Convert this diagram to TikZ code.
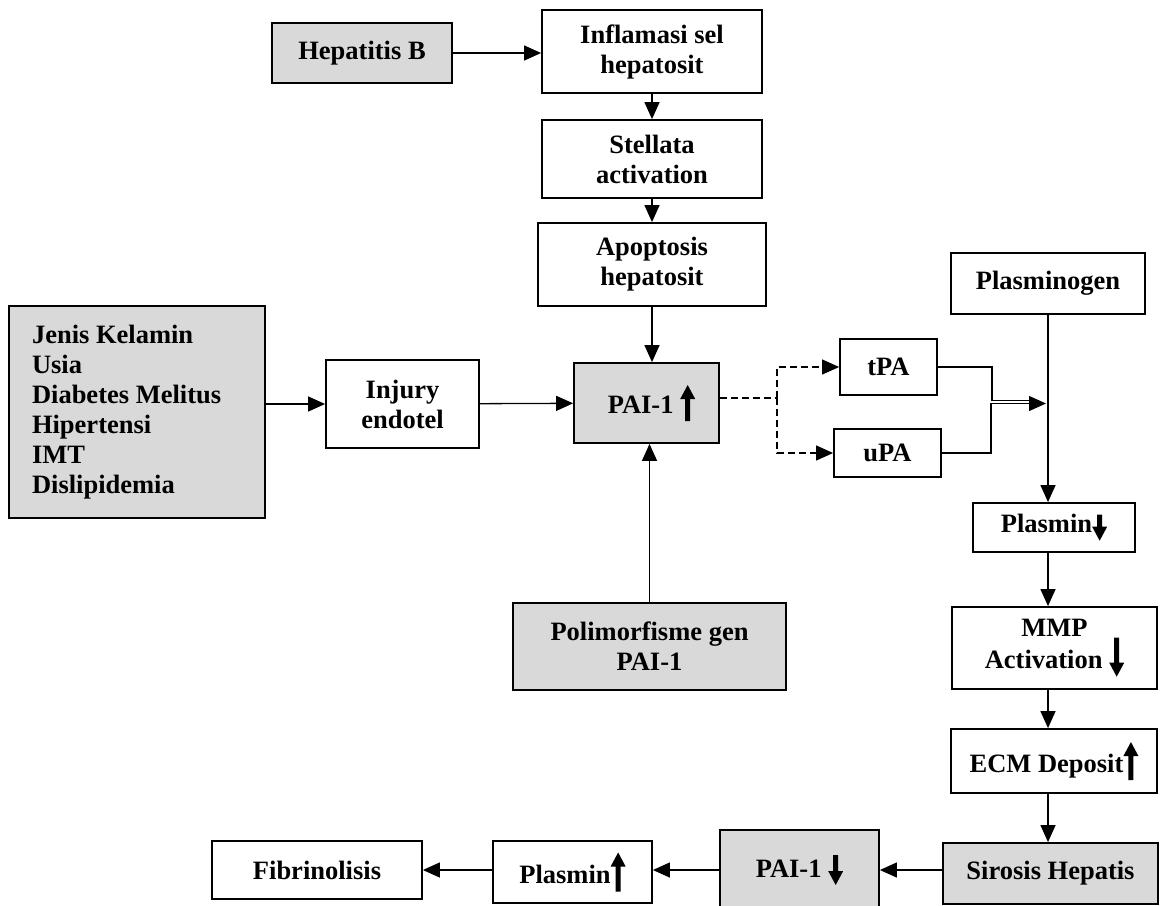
\documentclass[tikz,border=0pt]{standalone}
\usepackage{fontspec}
\setmainfont{Liberation Serif}
\usetikzlibrary{arrows.meta}

% thick arrows that sit in the text (height in pt)
\newcommand{\upar}[1]{\tikz[baseline=0pt]\fill (-2.5pt,-8pt) -- (-2.5pt,{#1pt-22pt}) -- (-7.5pt,{#1pt-22pt}) -- (0pt,{#1pt-8pt}) -- (7.5pt,{#1pt-22pt}) -- (2.5pt,{#1pt-22pt}) -- (2.5pt,-8pt) -- cycle;}
\newcommand{\dnar}[1]{\tikz[baseline=0pt]\fill (-2.5pt,{#1pt-8pt}) -- (-2.5pt,6pt) -- (-7.5pt,6pt) -- (0pt,-8pt) -- (7.5pt,6pt) -- (2.5pt,6pt) -- (2.5pt,{#1pt-8pt}) -- cycle;}

\begin{document}
\begin{tikzpicture}[x=1pt,y=-1pt,
  kotak/.style={draw,line width=1.8pt,align=center,inner sep=2pt,
    font=\fontsize{26.5}{30}\selectfont\bfseries},
  abu/.style={kotak,fill=gray!30},
  garis/.style={line width=1.3pt},
  panah/.style={garis,-{Triangle[length=17pt,width=15pt]}},
  putus/.style={line width=1.2pt,dash pattern=on 7pt off 4pt}]
\useasboundingbox (0,0) rectangle (1164,905);

\node[abu,minimum width=180pt,minimum height=60pt] (hepb) at (362,53) {Hepatitis B};
\node[kotak,minimum width=220pt,minimum height=83pt] (infl) at (652,51.5) {Inflamasi sel\\hepatosit};
\node[kotak,minimum width=220pt,minimum height=78pt] (stel) at (652,159) {Stellata\\activation};
\node[kotak,minimum width=228pt,minimum height=83pt] (apop) at (652,264.5) {Apoptosis\\hepatosit};
\node[abu,minimum width=145pt,minimum height=80pt] (pai) at (646.5,403) {\hspace*{10pt}PAI-1 \upar{36}};
\node[abu,minimum width=256pt,minimum height=212pt,text width=210pt,align=flush left] (faktor) at (137,412)
  {Jenis Kelamin\\Usia\\Diabetes Melitus\\Hipertensi\\IMT\\Dislipidemia};
\node[kotak,minimum width=153pt,minimum height=88pt] (inj) at (402.5,404) {Injury\\endotel};
\node[abu,minimum width=273pt,minimum height=87pt] (poli) at (649.5,646.5) {Polimorfisme gen\\PAI-1};
\node[kotak,minimum width=97pt,minimum height=56pt] (tpa) at (888.5,367) {tPA};
\node[kotak,minimum width=107pt,minimum height=48pt] (upa) at (887.5,453) {uPA};
\node[kotak,minimum width=194pt,minimum height=61pt] (plsg) at (1048,283.5) {Plasminogen};
\node[kotak,minimum width=162pt,minimum height=49pt] (plsd) at (1054,527.5) {Plasmin\dnar{26}};
\node[kotak,minimum width=205pt,minimum height=82pt] (mmp) at (1054.5,648) {MMP\\Activation \dnar{39}};
\node[kotak,minimum width=206pt,minimum height=64pt] (ecm) at (1054,761) {ECM Deposit\upar{38}};
\node[abu,minimum width=215pt,minimum height=61pt] (siro) at (1050.5,873.5) {Sirosis Hepatis};
\node[abu,minimum width=159pt,minimum height=80pt] (pai2) at (799.5,870) {PAI-1 \dnar{30}};
\node[kotak,minimum width=159pt,minimum height=62pt] (plsu) at (572.5,872) {Plasmin\upar{39}};
\node[kotak,minimum width=210pt,minimum height=58pt] (fibr) at (317,870) {Fibrinolisis};

\draw[panah] (hepb.east) -- (hepb.east -| infl.west);
\draw[panah] (infl) -- (stel);
\draw[panah] (stel) -- (apop);
\draw[panah] (apop.south) -- (apop.south |- pai.north);
\draw[panah] (poli.north) -- (poli.north |- pai.south);
\draw[panah] (faktor.east |- inj.west) -- (inj.west);
\draw[panah] (inj) -- (pai);

% dashed split to tPA and uPA
\coordinate (cabang) at (777,398);
\draw[putus,line width=2pt] (pai.east |- cabang) -- (cabang);
\draw[panah,putus] (cabang) |- (tpa.west);
\draw[panah,putus] (cabang) |- (upa.west);

% both join the Plasminogen line
\coordinate (gabung) at (1046,402);
\draw[garis] (tpa.east) -| ([xshift=-54pt,yshift=1.5pt]gabung) -- ([xshift=-16pt,yshift=1.5pt]gabung);
\draw[panah] (upa.east) -| ([xshift=-55pt,yshift=-1.5pt]gabung) -- ([yshift=-1.5pt]gabung);

\draw[panah] (plsg.south) -- (plsg.south |- plsd.north);
\draw[panah] (plsd.south -| plsg.south) -- (plsg.south |- mmp.north);
\draw[panah] (mmp.south -| plsg.south) -- (plsg.south |- ecm.north);
\draw[panah] (ecm.south -| plsg.south) -- (plsg.south |- siro.north);
\draw[panah] (siro.west |- pai2.east) -- (pai2.east);
\draw[panah] (pai2.west) -- (pai2.west -| plsu.east);
\draw[panah] (plsu.west |- fibr.east) -- (fibr.east);
\end{tikzpicture}
\end{document}
